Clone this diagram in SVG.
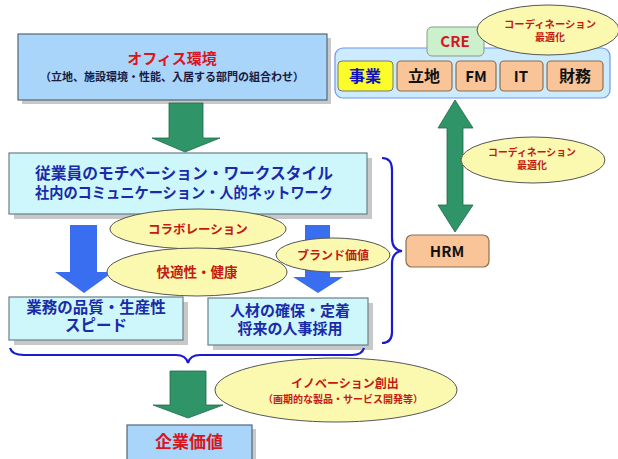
<svg xmlns="http://www.w3.org/2000/svg" width="618" height="459" viewBox="0 0 618 459">
<defs>
<style>
text{font-family:"Noto Sans CJK JP","Noto Sans",sans-serif;font-weight:bold;text-anchor:middle}
.shadow{fill:#c8c8c8}
.boxblue{fill:#a9d5fa;stroke:#556677;stroke-width:1.2}
.boxcyan{fill:#cdf7fb;stroke:#6a7f88;stroke-width:1.2}
.salmon{fill:#f9c497;stroke:#8a7050;stroke-width:1.2}
.ell{fill:#fbf9b0;stroke:#555;stroke-width:1}
.green{fill:#2f9467;stroke:#1f6a48;stroke-width:0.8}
.bluearrow{fill:#3a6ef0}
.red{fill:#d8161e}
.dred{fill:#c41a10}
.navy{fill:#1a2aa8}
.brace{fill:none;stroke:#1a1ad0;stroke-width:2.2}
</style>
</defs>

<g id="office">
<rect class="shadow" x="22" y="38" width="309" height="66"/>
<rect class="boxblue" x="18" y="34" width="309" height="66"/>
<text x="172" y="64" font-size="15" class="red">オフィス環境</text>
<text x="172" y="81" font-size="11" fill="#1a1a40">（立地、施設環境・性能、入居する部門の組合わせ）</text>
</g>

<g id="cre">
<rect x="335" y="48" width="275" height="50" rx="8" fill="#cdebff" stroke="#6f96f0" stroke-width="1.2"/>
<rect x="427" y="27" width="57" height="29" rx="5" fill="#ccf0cc" stroke="#889988" stroke-width="1"/>
<text x="455" y="47" font-size="15" class="red" font-family="Liberation Sans,Arial,sans-serif">CRE</text>
<g id="jigyo"><rect x="338" y="61" width="55" height="30" rx="4" fill="#fcfc2a" stroke="#777" stroke-width="1"/><text x="365" y="82" font-size="16" fill="#1010c0">事業</text></g>
<g id="ritchi"><rect class="salmon" x="397" y="61" width="55" height="30" rx="4"/><text x="424" y="82" font-size="16" fill="#111">立地</text></g>
<g id="fm"><rect class="salmon" x="456" y="61" width="40" height="30" rx="4"/><text x="476" y="82" font-size="15" fill="#111" font-family="Liberation Sans,Arial,sans-serif">FM</text></g>
<g id="it"><rect class="salmon" x="500" y="61" width="43" height="30" rx="4"/><text x="521" y="82" font-size="15" fill="#111" font-family="Liberation Sans,Arial,sans-serif">IT</text></g>
<g id="zaimu"><rect class="salmon" x="547" y="61" width="56" height="30" rx="4"/><text x="575" y="82" font-size="16" fill="#111">財務</text></g>
</g>

<g id="coord-top">
<ellipse class="ell" cx="548" cy="30" rx="71" ry="25"/>
<text x="550" y="28" font-size="10" class="dred" textLength="92" lengthAdjust="spacingAndGlyphs">コーディネーション</text>
<text x="550" y="41" font-size="10" class="dred">最適化</text>
</g>

<g id="employee">
<rect class="shadow" x="14" y="158" width="358" height="61"/>
<rect class="boxcyan" x="9" y="153" width="358" height="61"/>
<text x="184" y="179" font-size="16" class="navy" textLength="298" lengthAdjust="spacingAndGlyphs">従業員のモチベーション・ワークスタイル</text>
<text x="184" y="198" font-size="15" class="navy" textLength="298" lengthAdjust="spacingAndGlyphs">社内のコミュニケーション・人的ネットワーク</text>
</g>

<g id="quality">
<rect class="shadow" x="14" y="302" width="174" height="43"/>
<rect class="boxcyan" x="9" y="297" width="174" height="43"/>
<text x="96" y="313" font-size="15.5" class="navy">業務の品質・生産性</text>
<text x="96" y="331" font-size="15.5" class="navy">スピード</text>
</g>

<g id="talent">
<rect class="shadow" x="213" y="303" width="160" height="47"/>
<rect class="boxcyan" x="208" y="298" width="160" height="47"/>
<text x="290" y="316" font-size="15" class="navy">人材の確保・定着</text>
<text x="290" y="334" font-size="15" class="navy">将来の人事採用</text>
</g>

<g id="hrm">
<rect class="salmon" x="406" y="235" width="83" height="32" rx="6"/>
<text x="447" y="257" font-size="15" fill="#111" font-family="Liberation Sans,Arial,sans-serif">HRM</text>
</g>

<g id="value">
<rect class="shadow" x="131" y="429" width="125" height="34"/>
<rect class="boxblue" x="127" y="425" width="125" height="36"/>
<text x="189" y="448" font-size="17" class="red">企業価値</text>
</g>

<g id="connectors">
<polygon class="green" points="169,103 203,103 203,138 220,138 185,152 152,138 169,138"/>
<polygon class="green" points="455,100 473,128 463,128 463,205 473,205 455,232 438,205 447,205 447,128 438,128"/>
<polygon class="bluearrow" points="70,225 97,225 97,272 113,272 84,293 55,272 70,272"/>
<polygon class="bluearrow" points="305,225 330,225 330,277 343,277 318,293 293,277 305,277"/>
<polygon class="green" points="170,371 206,371 206,405 223,405 188,418 153,405 170,405"/>
<path class="brace" d="M382,158 Q392,158 392,170 L392,238 Q392,250 402,251 Q392,252 392,264 L392,332 Q392,343 382,343"/>
<path class="brace" d="M10,348 Q12,355 24,355 L176,355 Q186,355 188,363 Q190,355 200,355 L352,355 Q362,355 364,348"/>
</g>

<g id="collab">
<ellipse class="ell" cx="198" cy="229" rx="88" ry="20"/>
<text x="198" y="234" font-size="12.5" class="dred">コラボレーション</text>
</g>
<g id="brand">
<ellipse class="ell" cx="333" cy="255" rx="57" ry="17"/>
<text x="333" y="260" font-size="12" class="dred">ブランド価値</text>
</g>
<g id="comfort">
<ellipse class="ell" cx="197" cy="272" rx="90" ry="24"/>
<text x="197" y="277" font-size="13.5" class="dred">快適性・健康</text>
</g>

<g id="coord-mid">
<ellipse class="ell" cx="533" cy="160" rx="72" ry="23"/>
<text x="532" y="156" font-size="10" class="dred" textLength="88" lengthAdjust="spacingAndGlyphs">コーディネーション</text>
<text x="532" y="169" font-size="10" class="dred">最適化</text>
</g>

<g id="innovation">
<ellipse class="ell" cx="336" cy="390" rx="121" ry="32"/>
<text x="345" y="388" font-size="12" class="dred">イノベーション創出</text>
<text x="343" y="403" font-size="10" class="dred">（画期的な製品・サービス開発等）</text>
</g>
</svg>
